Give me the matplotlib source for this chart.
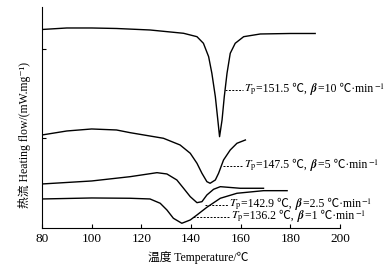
import matplotlib
matplotlib.use("Agg")
import matplotlib.pyplot as plt
from matplotlib.offsetbox import TextArea, HPacker, AnnotationBbox

FAM = ['Liberation Serif', 'Noto Sans CJK SC', 'DejaVu Sans']
plt.rcParams['font.family'] = FAM
plt.rcParams['mathtext.fontset'] = 'stix'

# DSC curves, heat flow in arbitrary units
t_10 = [80, 90, 100, 110, 123.5, 137.0, 142.4, 145.0, 147.1, 148.4, 149.8, 150.8, 151.5,
        152.5, 153.4, 154.5, 155.8, 157.8, 161.2, 167.9, 180, 190]
h_10 = [198.5, 200, 200, 199.5, 198, 194.7, 191.3, 184.7, 171.3, 154.7, 131.3, 108, 91.3,
        108, 131.3, 154.7, 174.7, 184.7, 191.3, 194, 194.5, 194.5]

t_5 = [80, 90, 100, 110, 115.5, 128.9, 135.6, 139.7, 142.4, 144.4, 146.4, 147.7, 149.8,
       151.1, 153.1, 155.8, 158.5, 161.9]
h_5 = [93, 97, 99, 98, 95.3, 89.7, 83, 74.7, 64.7, 54.7, 46.3, 44.7, 48,
       54.7, 68, 78, 84.7, 88]

t_25 = [80, 100, 115.5, 126.3, 130.3, 134.3, 137.0, 139.7, 142.4, 144.4, 146.4, 149.1,
        151.8, 159.8, 169.2]
h_25 = [44, 47, 51.3, 55.3, 54, 48, 39.7, 31.3, 25.3, 26.3, 33, 38.7,
        41.3, 39.7, 39.7]

t_1 = [80, 100, 115.5, 123.5, 127.6, 130.3, 132.9, 136.3, 139.7, 142.4, 146.4, 151.8,
       158.5, 169.2, 178.7]
h_1 = [29, 30, 29.7, 29, 24.7, 18, 9.7, 4.7, 8, 13, 20.7, 29.7,
       34.7, 37.3, 37.3]

tp_vals = ["151.5", "147.5", "142.9", "136.2"]
beta_vals = ["10", "5", "2.5", "1"]
# (curve point, text point) for the dashed leaders
ann_from = [(153.8, 138), (153.0, 62), (145.7, 23), (140.9, 11)]
ann_to = [(161.0, 138), (161.0, 62), (155.0, 23), (155.8, 11)]

fig = plt.figure(figsize=(3.91, 2.74), dpi=100)
ax = fig.add_axes([0.1074, 0.168, 0.7622, 0.8065])

for t, h in [(t_10, h_10), (t_5, h_5), (t_25, h_25), (t_1, h_1)]:
    ax.plot(t, h, color='black', lw=1.0)

tp = dict(fontsize=8.5, family=FAM)
for tpv, bv, p0, p1 in zip(tp_vals, beta_vals, ann_from, ann_to):
    ax.plot([p0[0], p1[0]], [p0[1], p1[1]], color='black', lw=0.7, ls=(0, (2, 1.5)))
    parts = [r"$T_\mathrm{p}$", "=" + tpv + " ℃, ", r"$\boldsymbol{\beta}$",
             "=" + bv + " ℃·min", r"$^{-1}$"]
    box = HPacker(children=[TextArea(p, textprops=tp) for p in parts],
                  align='baseline', pad=0, sep=0)
    ab = AnnotationBbox(box, (p1[0] + 0.2, p1[1]), xycoords='data',
                        box_alignment=(0, 0.45), frameon=False, pad=0)
    ax.add_artist(ab)

ax.set_xlim(80, 200)
ax.set_ylim(0, 221)
ax.set_xticks([80, 100, 120, 140, 160, 180, 200])
ax.set_yticks([90, 179])
ax.set_yticklabels([])
ax.tick_params(direction='in', length=3, width=0.8, labelsize=9.5)
for s in ['top', 'right']:
    ax.spines[s].set_visible(False)

ax.set_xlabel("温度 Temperature/℃", fontsize=8.5)
ax.set_ylabel("热流 Heating flow/(mW.mg⁻¹)", fontsize=8.5)
ax.xaxis.set_label_coords(0.523, -0.104)
ax.yaxis.set_label_coords(-0.036, 0.42)

fig.savefig("out.png", dpi=100)
